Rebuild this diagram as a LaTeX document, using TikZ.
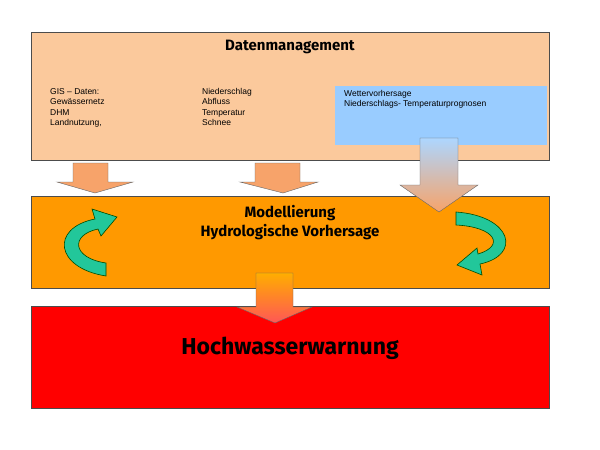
\documentclass[tikz,border=0pt]{standalone}
\usepackage{fontspec}
\setmainfont{Liberation Sans}
\newfontfamily\titlefont{Fira Sans}
\begin{document}
\begin{tikzpicture}[x=1pt,y=-1pt,
  boxst/.style={draw=black!70,line width=0.6pt},
  small/.style={font=\fontsize{8.5}{10.5}\selectfont,anchor=north west,align=left,inner sep=0pt},
  ttl/.style={font=\titlefont\bfseries\fontsize{15}{19}\selectfont,align=center,inner sep=0pt},
  blk/.style={draw=black!60,line width=0.4pt},
  green/.style={fill=teal!60!green!70,draw=green!30!black,line width=0.6pt}]
\definecolor{peach}{HTML}{FBC99C}
\definecolor{sky}{HTML}{99CCFF}
\definecolor{orng}{HTML}{FF9900}
\definecolor{arr}{HTML}{F7A36A}
\definecolor{grn}{HTML}{22C79A}
\useasboundingbox (0,0) rectangle (600,450);
\fill[white] (0,0) rectangle (600,450);
\draw[boxst,fill=peach] (31,32) rectangle (549,160);
\fill[sky] (335,86) rectangle (547,145);
\draw[boxst,fill=orng] (31,196) rectangle (549,288);
\draw[boxst,fill=red] (31,306) rectangle (549,408);
\node[ttl] (dm) at (290,47) {Datenmanagement};
\node[small] (c1) at (50,88) {GIS – Daten:\\Gewässernetz\\DHM\\Landnutzung,};
\node[small] (c2) at (202,88) {Niederschlag\\Abfluss\\Temperatur\\Schnee};
\node[small] (c3) at (344,90) {Wettervorhersage\\Niederschlags- Temperaturprognosen};
\node[ttl] (mod) at (290,223) {Modellierung\\Hydrologische Vorhersage};
\node[font=\titlefont\bfseries\fontsize{23}{26}\selectfont,inner sep=0pt] (hw) at (290,348) {Hochwasserwarnung};
% block arrows
\draw[blk,fill=arr] (73,163)--(108,163)--(108,182)--(133,182)--(95,193)--(57,182)--(73,182)--cycle;
\draw[blk,fill=arr] (255,163)--(300,163)--(300,182)--(318,182)--(283,193)--(240,182)--(255,182)--cycle;
\draw[blk,top color=sky!80!white,bottom color=arr] (420,138)--(458,138)--(458,185)--(478,185)--(439,212)--(400,185)--(420,185)--cycle;
\draw[blk,top color=orng!80!yellow,bottom color=red!55!pink] (256,273)--(293,273)--(293,307)--(312,307)--(275,323)--(237,307)--(256,307)--cycle;
% curved arrows
\draw[green,fill=grn] (106,276) .. controls (55,268) and (50,228) .. (95,219) -- (92,209) -- (117,217) -- (101,236) -- (98,229) .. controls (70,235) and (72,258) .. (106,263) -- cycle;
\draw[green,fill=grn] (456,212) .. controls (512,216) and (522,255) .. (480,264) -- (482,275) -- (457,265) -- (477,248) -- (478,254) .. controls (505,246) and (496,227) .. (456,225) -- cycle;
\end{tikzpicture}
\end{document}
